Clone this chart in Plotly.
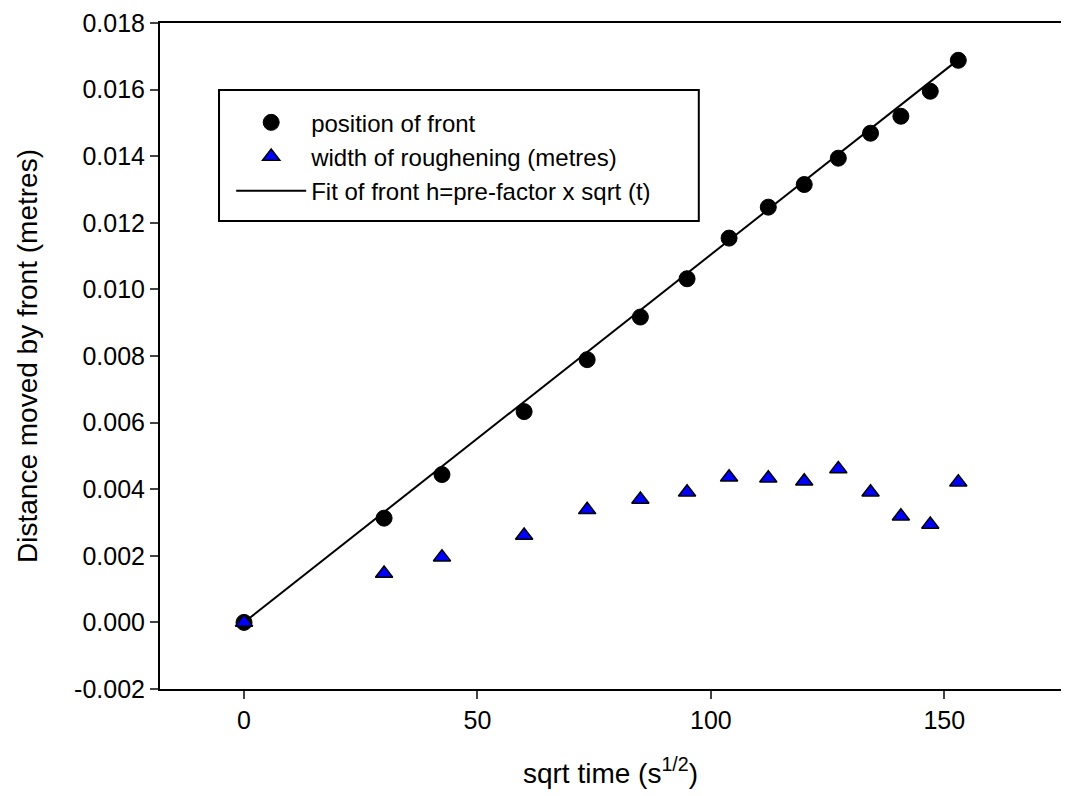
import plotly.graph_objects as go

# Data
sqrt_time = [0, 30.0, 42.4, 60.0, 73.5, 84.9, 94.9, 103.9, 112.3, 120.0, 127.3, 134.2, 140.7, 147.0, 153.0]
front_position = [0.0, 0.00313, 0.00444, 0.00633, 0.00789, 0.00917, 0.01032, 0.01154, 0.01247,
                  0.01315, 0.01394, 0.01469, 0.01520, 0.01595, 0.01688]
roughening_width = [0.0, 0.00147, 0.00196, 0.00261, 0.00338, 0.00369, 0.00391, 0.00436, 0.00433,
                    0.00424, 0.00461, 0.00391, 0.00319, 0.00294, 0.00421]
fit_x = [0, 153.0]
fit_y = [0.0, 0.01690]

y_tickvals = [-0.002, 0.0, 0.002, 0.004, 0.006, 0.008, 0.010, 0.012, 0.014, 0.016, 0.018]
y_ticktext = ["-0.002", "0.000", "0.002", "0.004", "0.006", "0.008", "0.010", "0.012", "0.014", "0.016", "0.018"]
x_tickvals = [0, 50, 100, 150]

FONT = "Arial, Liberation Sans, sans-serif"

fig = go.Figure()
fig.add_trace(go.Scatter(
    x=fit_x, y=fit_y, mode="lines",
    line=dict(color="black", width=2),
    name="Fit of front h=pre-factor x sqrt (t)", legendrank=3))
fig.add_trace(go.Scatter(
    x=sqrt_time, y=front_position, mode="markers",
    marker=dict(symbol="circle", size=16, color="black", line=dict(color="black", width=1)),
    name="position of front", legendrank=1))
fig.add_trace(go.Scatter(
    x=sqrt_time, y=roughening_width, mode="markers",
    marker=dict(symbol="triangle-up", size=15, color="#0000FF", line=dict(color="black", width=1.5)),
    name="width of roughening (metres)", legendrank=2))

fig.update_layout(
    width=1073, height=796,
    margin=dict(l=160, r=12, t=23, b=107, autoexpand=False),
    paper_bgcolor="white", plot_bgcolor="white",
    font=dict(family=FONT, size=25, color="black"),
    showlegend=True,
    legend=dict(
        x=0.079, y=0.884, xanchor="left", yanchor="top",
        bgcolor="rgba(0,0,0,0)", borderwidth=0,
        font=dict(family=FONT, size=24, color="black"),
        itemwidth=70, tracegroupgap=0),
    shapes=[dict(type="rect", xref="paper", yref="paper",
                 x0=0.0655, x1=0.598, y0=0.7027, y1=0.8994,
                 line=dict(color="black", width=2), fillcolor="rgba(0,0,0,0)")],
)
fig.update_xaxes(
    range=[-18, 175], tickvals=x_tickvals, ticks="outside", ticklen=8, tickwidth=2,
    showline=True, linecolor="black", linewidth=2, mirror=True, showgrid=False, zeroline=False,
    tickfont=dict(size=25), automargin=False,
    title=dict(text="sqrt time (s<sup>1/2</sup>)", font=dict(size=28), standoff=30))
fig.update_yaxes(
    range=[-0.002, 0.018], tickvals=y_tickvals, ticktext=y_ticktext,
    ticks="outside", ticklen=8, tickwidth=2,
    showline=True, linecolor="black", linewidth=2, mirror=False, showgrid=False, zeroline=False,
    tickfont=dict(size=25), automargin=False,
    title=dict(text="Distance moved by front (metres)", font=dict(size=28), standoff=28))

fig.write_html("out.html", config={"displayModeBar": False},
               post_script="document.body.style.margin='0';document.body.style.overflow='hidden';")
